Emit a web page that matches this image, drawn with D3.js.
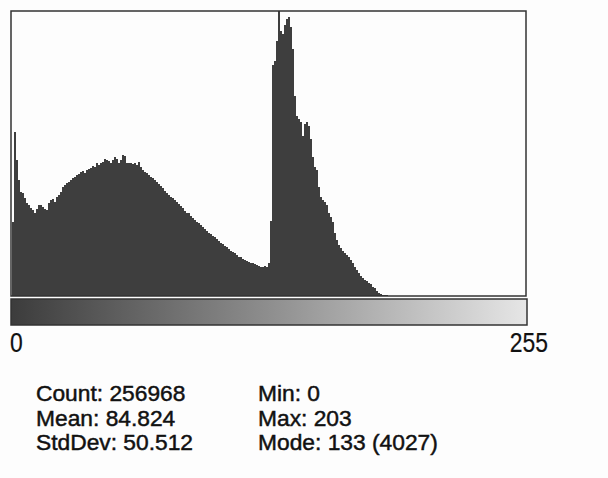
<!DOCTYPE html>
<html>
<head>
<meta charset="utf-8">
<script src="https://cdn.jsdelivr.net/npm/d3@7"></script>
<style>
  body { margin: 0; background: #fdfdfd; }
  svg { display: block; }
  text { font-family: "Liberation Sans", Arial, sans-serif; fill: #111; stroke: #111; stroke-width: 0.45px; }
</style>
</head>
<body>
<div id="chart"></div>
<script>
// histogram counts per grey level 0..255
const counts = [
  1036, 2282, 1904, 1624, 1456, 1442, 1372, 1302, 1274, 1232,
  1204, 1162, 1218, 1274, 1274, 1246, 1218, 1204, 1302, 1344,
  1358, 1316, 1386, 1414, 1456, 1526, 1554, 1582, 1596, 1624,
  1652, 1666, 1694, 1708, 1736, 1750, 1722, 1764, 1778, 1792,
  1820, 1806, 1862, 1834, 1862, 1876, 1918, 1904, 1890, 1862,
  1904, 1946, 1918, 1862, 1904, 1974, 1960, 1862, 1862, 1862,
  1848, 1862, 1834, 1876, 1806, 1764, 1736, 1722, 1694, 1666,
  1652, 1624, 1596, 1568, 1540, 1512, 1470, 1442, 1414, 1386,
  1372, 1344, 1316, 1288, 1260, 1232, 1190, 1162, 1162, 1120,
  1092, 1064, 1036, 1022, 994, 966, 938, 910, 882, 868,
  840, 826, 798, 770, 742, 728, 700, 686, 658, 630,
  616, 602, 574, 546, 546, 518, 504, 490, 476, 462,
  462, 448, 434, 420, 406, 406, 420, 406, 462, 1050,
  3220, 3276, 3556, 4027, 3696, 3654, 3780, 3864, 3892, 3752,
  3444, 2786, 2506, 2464, 2422, 2226, 2394, 2422, 2366, 2184,
  1946, 1806, 1764, 1526, 1386, 1344, 1316, 1274, 1162, 1106,
  1036, 882, 784, 714, 672, 630, 602, 574, 546, 504,
  462, 406, 364, 322, 280, 252, 224, 210, 182, 168,
  126, 112, 70, 42, 28, 14, 9, 7, 5, 4,
  3, 3, 2, 2, 1, 1, 1, 1, 0, 1,
  0, 0, 0, 1, 0, 0, 0, 0, 0, 0,
  0, 0, 0, 0, 0, 0, 0, 0, 0, 0,
  0, 0, 0, 0, 0, 0, 0, 0, 0, 0,
  0, 0, 0, 0, 0, 0, 0, 0, 0, 0,
  0, 0, 0, 0, 0, 0, 0, 0, 0, 0,
  0, 0, 0, 0, 0, 0
];

const axisLabels = ["0", "255"];
const statsLeft = ["Count: 256968", "Mean: 84.824", "StdDev: 50.512"];
const statsRight = ["Min: 0", "Max: 203", "Mode: 133 (4027)"];

const width = 608, height = 478;
const box = { left: 11, top: 11, right: 526, bottom: 296 };

const svg = d3.select("#chart")
  .append("svg")
  .attr("width", width)
  .attr("height", height);

const x = d3.scaleLinear().domain([0, 256]).range([12, 524]);
const y = d3.scaleLinear().domain([0, 3976]).range([box.bottom, box.top]).clamp(true);

// bars
svg.append("g")
  .attr("shape-rendering", "crispEdges")
  .selectAll("rect")
  .data(counts)
  .join("rect")
  .attr("x", (d, i) => x(i))
  .attr("width", (d, i) => x(i + 1) - x(i))
  .attr("y", d => y(d))
  .attr("height", d => box.bottom - y(d))
  .attr("fill", "#3e3e3e");

// frame
svg.append("rect")
  .attr("x", box.left)
  .attr("y", box.top)
  .attr("width", box.right - box.left)
  .attr("height", box.bottom - box.top)
  .attr("fill", "none")
  .attr("stroke", "#333")
  .attr("stroke-width", 1.5);

// grey ramp bar
const grad = svg.append("defs").append("linearGradient")
  .attr("id", "ramp");
grad.append("stop").attr("offset", "0%").attr("stop-color", "#3c3c3c");
grad.append("stop").attr("offset", "50%").attr("stop-color", "#8e8e8e");
grad.append("stop").attr("offset", "100%").attr("stop-color", "#e6e6e6");

svg.append("rect")
  .attr("x", box.left)
  .attr("y", 299)
  .attr("width", box.right + 1 - box.left)
  .attr("height", 26)
  .attr("fill", "url(#ramp)")
  .attr("stroke", "#333")
  .attr("stroke-width", 1.5);

// 0 / 255 labels
const labelPos = [box.left - 1, 548];
svg.selectAll("text.axis")
  .data(axisLabels)
  .join("text")
  .attr("class", "axis")
  .attr("transform", (d, i) => `translate(${labelPos[i]},352) scale(0.85,1)`)
  .attr("text-anchor", (d, i) => i ? "end" : "start")
  .style("font-size", "27px")
  .style("stroke-width", "0.2px")
  .text(d => d);

// statistics
function statColumn(lines, left) {
  svg.append("g")
    .selectAll("text")
    .data(lines)
    .join("text")
    .attr("transform", (d, i) => `translate(${left},${401 + i * 24.5}) scale(1.06,1)`)
    .style("font-size", "21.5px")
    .text(d => d);
}
statColumn(statsLeft, 36);
statColumn(statsRight, 258);
</script>
</body>
</html>
